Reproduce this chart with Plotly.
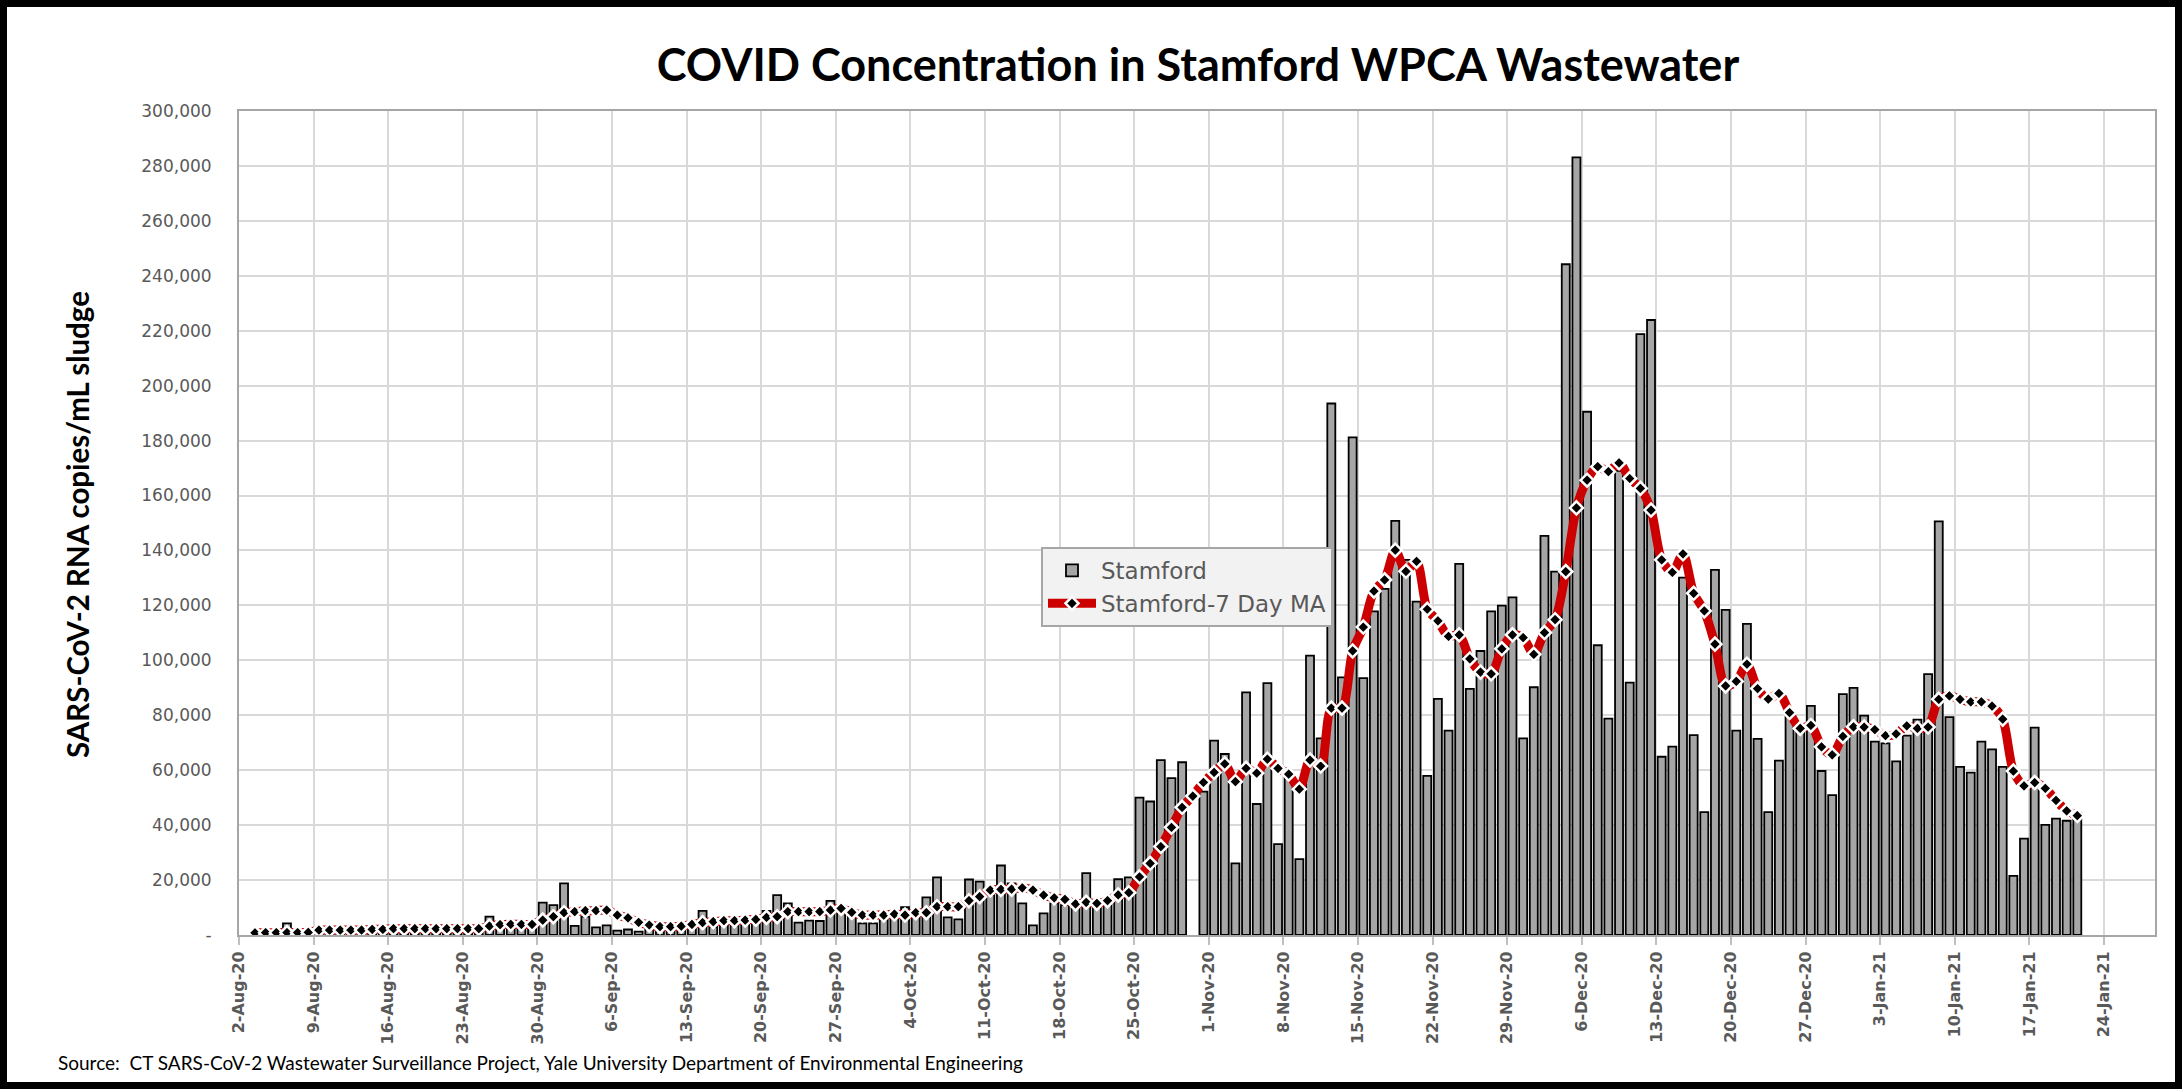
import pandas as pd
import plotly.graph_objects as go

# ---------------- data ----------------
start_date = "2020-08-03"
end_date = "2021-01-21"

stamford = [
    500, 800, 1000, 4200, 600, 700, 1500, 1800, 1600, 1400,
    1900, 1700, 2000, 1500, 2200, 1800, 2400, 1900, 2100, 1700,
    2300, 2000, 6700, 3200, 2800, 3600, 3000, 11800, 10900, 18800,
    3300, 6700, 2800, 3500, 1600, 2000, 1200, 2500, 2200, 2800,
    2600, 3200, 8800, 3000, 3800, 3400, 4200, 4800, 8800, 14500,
    11500, 4500, 5200, 5100, 12400, 8200, 7000, 4200, 4200, 5600,
    6200, 10100, 7200, 13700, 21000, 6400, 5700, 20200, 19400, 14500,
    25300, 18800, 11500, 3500, 7900, 11500, 10900, 10000, 22500, 11000,
    12000, 20300, 21000, 50000, 48600, 63700, 57100, 62900, None, 52200,
    70800, 65900, 26100, 88300, 47700, 91700, 33100, 57700, 27600, 101700,
    71600, 193500, 93800, 181200, 93500, 117800, 126000, 150800, 136600, 121400,
    57900, 86000, 74400, 135100, 89600, 103400, 117800, 119900, 122900, 71600,
    90200, 145300, 132300, 244200, 283100, 190500, 105500, 78800, 169000, 91900,
    218800, 223900, 64900, 68600, 130100, 72800, 44700, 132900, 118400, 74400,
    113300, 71400, 44700, 63500, 79900, 74000, 83400, 59700, 50900, 87700,
    90000, 79900, 70400, 69800, 63200, 72600, 78400, 95000, 150600, 79300,
    61200, 59100, 70400, 67600, 61200, 21500, 35100, 75500, 40100, 42400,
    41600, 44500,
]

stamford_ma7 = [
    800, 850, 850, 900, 900, 950, 1800, 1800, 1800, 1800,
    1800, 2060, 2060, 2300, 2300, 2300, 2300, 2300, 2300, 2300,
    2300, 2300, 3270, 3760, 3880, 3880, 3880, 5450, 6670, 8120,
    8480, 8850, 8850, 9090, 7270, 6200, 4600, 3640, 3030, 3030,
    3270, 3880, 4480, 4850, 5210, 5210, 5450, 5700, 6420, 6670,
    8480, 8480, 8480, 8480, 9090, 9700, 8240, 7270, 7270, 7270,
    7640, 7270, 8120, 8120, 10300, 10300, 10300, 12480, 13940, 16360,
    16600, 16700, 17200, 16360, 14540, 13500, 13000, 11300, 11900, 11500,
    12500, 14600, 15400, 21200, 26100, 32200, 39200, 46500, 50600, 55600,
    59200, 62300, 55800, 60700, 58900, 64000, 60700, 58600, 53100, 63700,
    61500, 82600, 82600, 103400, 112100, 125200, 129300, 140100, 132400, 136000,
    118600, 114400, 108700, 109300, 100500, 95700, 95100, 104200, 109300, 108300,
    102200, 110100, 114800, 132300, 155500, 165600, 170500, 168700, 171900, 166200,
    162600, 154700, 136600, 132000, 138800, 124400, 118000, 105900, 90700, 92300,
    98600, 89700, 85900, 88000, 81000, 75200, 76300, 68500, 65600, 72300,
    75800, 75700, 74800, 72600, 73200, 76100, 75200, 75700, 85800, 87100,
    85800, 84900, 84900, 83300, 78600, 59700, 54300, 55500, 53400, 49000,
    45200, 43500,
]

y_tick_values = [0, 20000, 40000, 60000, 80000, 100000, 120000, 140000,
                 160000, 180000, 200000, 220000, 240000, 260000, 280000, 300000]
y_tick_labels = ["-", "20,000", "40,000", "60,000", "80,000", "100,000", "120,000",
                 "140,000", "160,000", "180,000", "200,000", "220,000", "240,000",
                 "260,000", "280,000", "300,000"]

title_text = "COVID Concentration in Stamford WPCA Wastewater"
y_title_text = "SARS-CoV-2 RNA copies/mL sludge"
source_text = ("Source:  CT SARS-CoV-2 Wastewater Surveillance Project, "
               "Yale University Department of Environmental Engineering")

dates = pd.date_range(start_date, end_date, freq="D")

# ---------------- figure ----------------
W, H = 2182, 1089
ML, MR, MT, MB = 239, 27, 111, 154
PW, PH = W - ML - MR, H - MT - MB

fig = go.Figure()
fig.add_trace(go.Bar(
    x=dates, y=stamford, name="Stamford",
    xperiod=86400000, xperiodalignment="middle",
    marker=dict(color="#A6A6A6", line=dict(color="#000000", width=1.8)),
))
fig.add_trace(go.Scatter(
    x=dates, y=stamford_ma7, name="Stamford-7 Day MA",
    xperiod=86400000, xperiodalignment="middle",
    mode="lines+markers",
    line=dict(color="#CC0000", width=9, shape="spline", smoothing=0.8),
    marker=dict(symbol="diamond", size=10, color="#000000",
                line=dict(color="#FFFFFF", width=2.5)),
))

grid = "#D9D9D9"
fig.update_layout(
    width=W, height=H,
    margin=dict(l=ML, r=MR, t=MT, b=MB),
    paper_bgcolor="white", plot_bgcolor="white",
    bargap=0.25,
    showlegend=True,
    title=dict(text=title_text, x=1198 / W, xanchor="center",
               y=1 - 65 / H, yanchor="middle",
               font=dict(family="Lato", size=45, color="#000000", weight="bold")),
    legend=dict(x=(1041 - ML) / PW, y=(935 - 547) / PH, xanchor="left", yanchor="top",
                bgcolor="#F2F2F2", bordercolor="#A6A6A6", borderwidth=2,
                font=dict(family="DejaVu Sans", size=23, color="#595959"),
                itemwidth=48, tracegroupgap=2),
    font=dict(family="DejaVu Sans", color="#595959"),
)

fig.update_xaxes(
    type="date",
    range=["2020-08-02", "2021-01-28 19:00"],
    tick0="2020-08-02", dtick=7 * 86400000,
    tickformat="%-d-%b-%y", tickangle=-90,
    tickfont=dict(family="DejaVu Sans", size=16, color="#595959", weight="bold"),
    ticks="outside", ticklen=8, tickcolor="#BFBFBF", tickwidth=1.5,
    showgrid=True, gridcolor=grid, gridwidth=1.5,
    showline=True, linecolor="#A6A6A6", linewidth=2, mirror=True,
    zeroline=False,
)
fig.update_yaxes(
    range=[0, 300000],
    tickvals=y_tick_values, ticktext=y_tick_labels,
    tickfont=dict(family="DejaVu Sans", size=17, color="#595959"),
    ticks="", ticklabelstandoff=22,
    showgrid=True, gridcolor=grid, gridwidth=1.5,
    showline=True, linecolor="#A6A6A6", linewidth=2, mirror=True,
    zeroline=False,
)

fig.add_annotation(
    text=y_title_text, textangle=-90,
    xref="paper", yref="paper", x=(77 - ML) / PW, y=(935 - 525) / PH,
    xanchor="center", yanchor="middle", showarrow=False,
    font=dict(family="Lato", size=29.5, color="#000000", weight="bold"),
)
fig.add_annotation(
    text=source_text,
    xref="paper", yref="paper", x=(56 - ML) / PW, y=(935 - 1062) / PH,
    xanchor="left", yanchor="middle", showarrow=False,
    font=dict(family="Lato", size=19, color="#000000"),
)

# outer black frame
fig.add_shape(
    type="rect", xref="paper", yref="paper",
    x0=-ML / PW, x1=(W - ML) / PW, y0=-MB / PH, y1=(H - MB) / PH,
    line=dict(color="#000000", width=14), fillcolor="rgba(0,0,0,0)",
    layer="above",
)

fig.write_html("out.html",
               config={"displayModeBar": False},
               post_script="document.body.style.margin='0px';"
                           "document.body.style.overflow='hidden';")
